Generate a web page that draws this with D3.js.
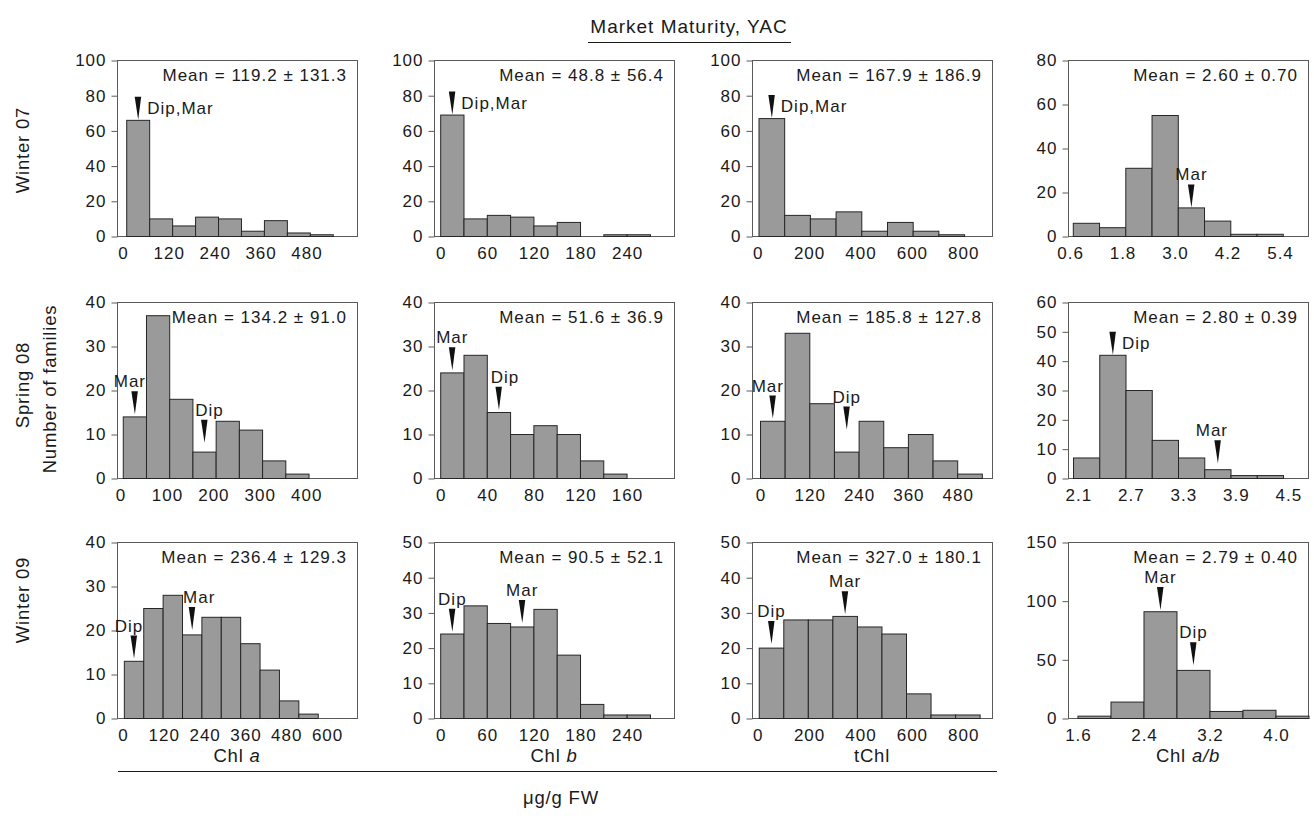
<!DOCTYPE html>
<html>
<head>
<meta charset="utf-8">
<script src="https://cdn.jsdelivr.net/npm/d3@7"></script>
<style>
  body { margin: 0; background: #fff; }
  svg text { font-family: "Liberation Sans", Arial, sans-serif; fill: #1a1a1a; }
</style>
</head>
<body>
<svg id="chart" width="1314" height="818"></svg>
<script>
// rows = seasons, columns = pigment measures
const seasons = ["Winter 07", "Spring 08", "Winter 09"];
const measures = ["Chl a", "Chl b", "tChl", "Chl a/b"];

// number of families per bin
const w07ChlA = [66, 10, 6, 11, 10, 3, 9, 2, 1];
const w07ChlB = [69, 10, 12, 11, 6, 8, 0, 1, 1];
const w07TChl = [67, 12, 10, 14, 3, 8, 3, 1];
const w07Ratio = [6, 4, 31, 55, 13, 7, 1, 1];
const s08ChlA = [14, 37, 18, 6, 13, 11, 4, 1];
const s08ChlB = [24, 28, 15, 10, 12, 10, 4, 1];
const s08TChl = [13, 33, 17, 6, 13, 7, 10, 4, 1];
const s08Ratio = [7, 42, 30, 13, 7, 3, 1, 1];
const w09ChlA = [13, 25, 28, 19, 23, 23, 17, 11, 4, 1];
const w09ChlB = [24, 32, 27, 26, 31, 18, 4, 1, 1];
const w09TChl = [20, 28, 28, 29, 26, 24, 7, 1, 1];
const w09Ratio = [2, 14, 91, 41, 6, 7, 2];

// bin start and bin width (ug/g FW, or ratio)
const binStart = [[10, 0, 5, 0.675], [6, 0, 0, 2.045], [4, 0, 6, 1.6]];
const binWidth = [[60, 30, 100, 0.6], [50, 20, 60, 0.3], [57, 30, 95.5, 0.4]];

// x tick labels
const xTicks = [
  [[0, 120, 240, 360, 480], [0, 60, 120, 180, 240], [0, 200, 400, 600, 800], [0.6, 1.8, 3.0, 4.2, 5.4]],
  [[0, 100, 200, 300, 400], [0, 40, 80, 120, 160], [0, 120, 240, 360, 480], [2.1, 2.7, 3.3, 3.9, 4.5]],
  [[0, 120, 240, 360, 480, 600], [0, 60, 120, 180, 240], [0, 200, 400, 600, 800], [1.6, 2.4, 3.2, 4.0]]
];
// y tick labels
const yTicks = [
  [[0, 20, 40, 60, 80, 100], [0, 20, 40, 60, 80, 100], [0, 20, 40, 60, 80, 100], [0, 20, 40, 60, 80]],
  [[0, 10, 20, 30, 40], [0, 10, 20, 30, 40], [0, 10, 20, 30, 40], [0, 10, 20, 30, 40, 50, 60]],
  [[0, 10, 20, 30, 40], [0, 10, 20, 30, 40, 50], [0, 10, 20, 30, 40, 50], [0, 50, 100, 150]]
];
// visible x range of each panel
const xDomains = [
  [[-15.4, 612], [-8.6, 300.3], [-22.2, 911.7], [0.554, 6.04]],
  [[-7.5, 509.3], [-5.75, 200.3], [-20.7, 563.5], [1.982, 4.725]],
  [[-17.6, 688], [-8.6, 300.3], [-22.2, 911.7], [1.479, 4.388]]
];

// mean +/- sd
const means = [
  [["119.2", "131.3"], ["48.8", "56.4"], ["167.9", "186.9"], ["2.60", "0.70"]],
  [["134.2", "91.0"], ["51.6", "36.9"], ["185.8", "127.8"], ["2.80", "0.39"]],
  [["236.4", "129.3"], ["90.5", "52.1"], ["327.0", "180.1"], ["2.79", "0.40"]]
];

// parent markers: bin, arrow tip level (families), label
const markers = [
  [[{ bin: 0, tip: 66, text: "Dip,Mar", side: true }],
   [{ bin: 0, tip: 69, text: "Dip,Mar", side: true }],
   [{ bin: 0, tip: 67, text: "Dip,Mar", side: true }],
   [{ bin: 4, tip: 13, text: "Mar" }]],
  [[{ bin: 0, tip: 14.5, text: "Mar", dx: -5 }, { bin: 3, tip: 8, text: "Dip", dx: 5 }],
   [{ bin: 0, tip: 24.5, text: "Mar" }, { bin: 2, tip: 15.5, text: "Dip", dx: 6 }],
   [{ bin: 0, tip: 13.5, text: "Mar", dx: -5 }, { bin: 3, tip: 11, text: "Dip" }],
   [{ bin: 1, tip: 42, text: "Dip", side: true }, { bin: 5, tip: 5, text: "Mar", dx: -6 }]],
  [[{ bin: 0, tip: 13.5, text: "Dip", dx: -5 }, { bin: 3, tip: 20, text: "Mar", dx: 7 }],
   [{ bin: 0, tip: 24.5, text: "Dip" }, { bin: 3, tip: 27, text: "Mar" }],
   [{ bin: 0, tip: 21, text: "Dip" }, { bin: 3, tip: 29.5, text: "Mar" }],
   [{ bin: 2, tip: 92, text: "Mar" }, { bin: 3, tip: 45, text: "Dip" }]]
];

const counts = [
  [w07ChlA, w07ChlB, w07TChl, w07Ratio],
  [s08ChlA, s08ChlB, s08TChl, s08Ratio],
  [w09ChlA, w09ChlB, w09TChl, w09Ratio]
];

const svg = d3.select("#chart");
const colX = [117, 434, 752, 1068];
const rowY = [60, 302, 542];
const pw = 240, ph = 176;
const fs = 17;
const ls = 1;

seasons.forEach((season, r) => {
  measures.forEach((m, c) => {
    const g = svg.append("g").attr("transform", `translate(${colX[c]},${rowY[r]})`);
    const x = d3.scaleLinear().domain(xDomains[r][c]).range([0, pw]);
    const y = d3.scaleLinear().domain([0, d3.max(yTicks[r][c])]).range([ph, 0]);
    const bins = counts[r][c].map((v, i) => ({
      x0: binStart[r][c] + i * binWidth[r][c],
      x1: binStart[r][c] + (i + 1) * binWidth[r][c],
      v
    }));

    // panel frame
    g.append("rect")
      .attr("x", 0.5).attr("y", 0.5)
      .attr("width", pw).attr("height", ph)
      .attr("fill", "none").attr("stroke", "#5a5a5a").attr("stroke-width", 1);

    // bars
    g.selectAll("rect.bar").data(bins).join("rect")
      .attr("class", "bar")
      .attr("x", d => x(d.x0))
      .attr("y", d => y(d.v) + 0.5)
      .attr("width", d => x(d.x1) - x(d.x0))
      .attr("height", d => ph - y(d.v))
      .attr("fill", "#9a9a9a")
      .attr("stroke", "#262626")
      .attr("stroke-width", 1);

    // y axis
    const ya = g.append("g").attr("transform", "translate(0.5,0.5)")
      .call(d3.axisLeft(y).tickValues(yTicks[r][c]).tickSize(6).tickPadding(5).tickSizeOuter(0));
    ya.select(".domain").remove();
    ya.selectAll("line").attr("stroke", "#5a5a5a");
    ya.selectAll("text").attr("font-size", fs).attr("letter-spacing", ls);
    ya.attr("font-family", null);

    // x axis labels
    const fmt = c === 3 ? d3.format(".1f") : d3.format("d");
    const xa = g.append("g").attr("transform", `translate(0,${ph})`)
      .call(d3.axisBottom(x).tickValues(xTicks[r][c]).tickSize(0).tickPadding(11).tickFormat(fmt));
    xa.select(".domain").remove();
    xa.selectAll("text").attr("font-size", fs).attr("letter-spacing", ls);
    xa.attr("font-family", null);

    // mean text
    g.append("text")
      .attr("x", pw - 10).attr("y", 21)
      .attr("text-anchor", "end")
      .attr("font-size", fs).attr("letter-spacing", ls)
      .text(`Mean = ${means[r][c][0]} \u00b1 ${means[r][c][1]}`);

    // Dip / Mar arrows
    markers[r][c].forEach(mk => {
      const b = bins[mk.bin];
      const ax = x((b.x0 + b.x1) / 2);
      const ay = y(mk.tip);
      g.append("path")
        .attr("d", `M${ax - 3.5},${ay - 23} L${ax + 3},${ay - 23} L${ax},${ay} Z`)
        .attr("fill", "#111");
      if (mk.side) {
        g.append("text").attr("x", ax + 9).attr("y", ay - 6)
          .attr("font-size", fs).attr("letter-spacing", ls).text(mk.text);
      } else {
        g.append("text").attr("x", ax + (mk.dx || 0)).attr("y", ay - 27)
          .attr("text-anchor", "middle").attr("font-size", fs).attr("letter-spacing", ls)
          .text(mk.text);
      }
    });
  });
});

// title
svg.append("text").attr("x", 689).attr("y", 33)
  .attr("text-anchor", "middle").attr("font-size", 19).attr("letter-spacing", 1)
  .text("Market Maturity, YAC");
svg.append("line").attr("x1", 588).attr("x2", 791).attr("y1", 42.5).attr("y2", 42.5)
  .attr("stroke", "#1a1a1a").attr("stroke-width", 1);

// row labels
const rowCenters = [150, 385, 600];
seasons.forEach((s, r) => {
  svg.append("text")
    .attr("transform", `translate(29,${rowCenters[r]}) rotate(-90)`)
    .attr("text-anchor", "middle").attr("font-size", 18.5).attr("letter-spacing", 0.8)
    .text(s);
});
svg.append("text")
  .attr("transform", "translate(56,389) rotate(-90)")
  .attr("text-anchor", "middle").attr("font-size", 18.5).attr("letter-spacing", 0.8)
  .text("Number of families");

// column titles
const colTitles = [
  [["Chl ", false], ["a", true]],
  [["Chl ", false], ["b", true]],
  [["tChl", false]],
  [["Chl ", false], ["a/b", true]]
];
colTitles.forEach((parts, c) => {
  const t = svg.append("text")
    .attr("x", colX[c] + pw / 2).attr("y", 762)
    .attr("text-anchor", "middle").attr("font-size", 18.5).attr("letter-spacing", 0.8);
  parts.forEach(p => {
    t.append("tspan").attr("font-style", p[1] ? "italic" : "normal").text(p[0]);
  });
});

// unit line + label
svg.append("line").attr("x1", 118).attr("x2", 997).attr("y1", 771.5).attr("y2", 771.5)
  .attr("stroke", "#1a1a1a").attr("stroke-width", 1);
svg.append("text").attr("x", 561).attr("y", 804)
  .attr("text-anchor", "middle").attr("font-size", 18.5).attr("letter-spacing", 0.8)
  .text("\u03bcg/g FW");
</script>
</body>
</html>
